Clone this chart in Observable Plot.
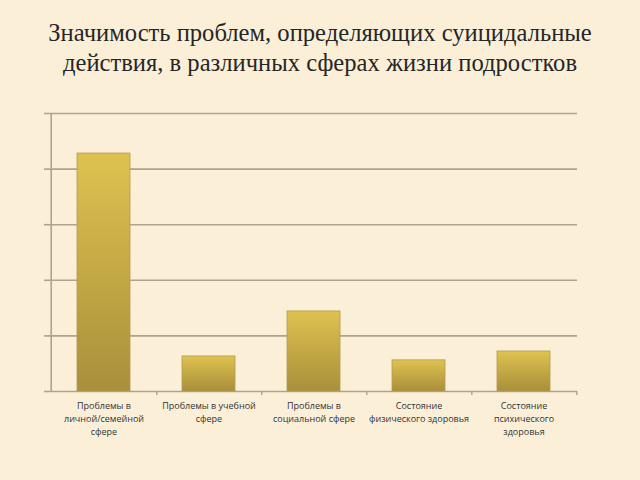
<!DOCTYPE html>
<html><head><meta charset="utf-8">
<script src="https://cdn.jsdelivr.net/npm/d3@7"></script>
<script src="https://cdn.jsdelivr.net/npm/@observablehq/plot@0.6"></script>
<style>
html,body{margin:0;padding:0;background:#fcefd8;width:640px;height:480px;overflow:hidden}
#title{font-family:"Liberation Serif","Times New Roman",serif;font-size:24.6px;line-height:30px;text-align:center;color:#262626;height:90px;box-sizing:border-box;padding-top:18px}
#chart svg{display:block;background:transparent}
</style></head><body>
<div id="title">Значимость проблем, определяющих суицидальные<br>действия, в различных сферах жизни подростков</div>
<div id="chart"></div>
<script>
const categories = [
  "Проблемы в\nличной/семейной\nсфере",
  "Проблемы в учебной\nсфере",
  "Проблемы в\nсоциальной сфере",
  "Состояние\nфизического здоровья",
  "Состояние\nпсихического\nздоровья"
];
const values = [42.8, 6.3, 14.4, 5.6, 7.2];
const yTicks = [0, 10, 20, 30, 40, 50];

const data = categories.map((c, i) => ({category: c, value: values[i]}));

const defs = () => {
  const ns = "http://www.w3.org/2000/svg";
  const d = document.createElementNS(ns, "defs");
  const g = document.createElementNS(ns, "linearGradient");
  g.setAttribute("id", "gold");
  g.setAttribute("x1", "0"); g.setAttribute("y1", "0");
  g.setAttribute("x2", "0"); g.setAttribute("y2", "1");
  [["0%", "#dec250"], ["100%", "#a98f3b"]].forEach(([o, c]) => {
    const s = document.createElementNS(ns, "stop");
    s.setAttribute("offset", o); s.setAttribute("stop-color", c);
    g.appendChild(s);
  });
  d.appendChild(g);
  return d;
};

const bandHalf = (640 - 49 - 63) / categories.length / 2;

const chart = Plot.plot({
  width: 640,
  height: 390,
  marginTop: 23,
  marginBottom: 89,
  marginLeft: 49,
  marginRight: 63,
  style: {background: "transparent"},
  x: {domain: categories, paddingInner: 0.5, paddingOuter: 0.25, label: null},
  y: {domain: [0, 50], label: null},
  marks: [
    defs,
    Plot.ruleY(yTicks, {stroke: "#ada38e", strokeWidth: 1.6}),
    Plot.axisY({ticks: yTicks, tickSize: 5, tickFormat: () => "", stroke: "#ada38e", strokeWidth: 1.6}),
    Plot.ruleX([categories[0]], {dx: -bandHalf, stroke: "#ada38e", strokeWidth: 1.6}),
    Plot.ruleX(categories, {dx: bandHalf, y1: 0, y2: 0, insetBottom: -4, stroke: "#ada38e", strokeWidth: 1.4}),
    Plot.barY(data, {x: "category", y: "value", fill: "url(#gold)", stroke: "#b39c52", strokeWidth: 0.8}),
    Plot.axisX({tickSize: 0, tickPadding: 8, fontSize: 9, lineHeight: 1.45, fill: "#333333", fontFamily: "Open Sans", textAnchor: "middle", lineAnchor: "top"})
  ]
});
document.getElementById("chart").appendChild(chart);
</script>
</body></html>
